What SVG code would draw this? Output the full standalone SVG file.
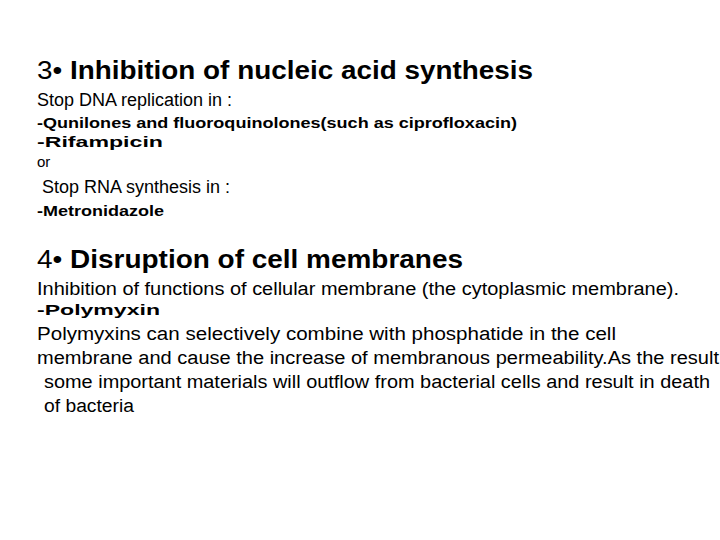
<svg xmlns="http://www.w3.org/2000/svg" width="720" height="540" viewBox="0 0 720 540">
<style>
text{font-family:"Liberation Sans",Arial,sans-serif;fill:#000}
.h{font-size:25px;font-weight:bold}
.r{font-size:18px}
.b{font-size:15px;font-weight:bold}
.s{font-size:15px}
</style>
<rect width="720" height="540" fill="#fff"/>
<text x="37" y="79" class="h" textLength="496" lengthAdjust="spacingAndGlyphs"><tspan font-weight="normal">3•</tspan> Inhibition of nucleic acid synthesis</text>
<text x="37" y="106" class="r">Stop DNA replication in :</text>
<text x="37" y="128" class="b" textLength="480" lengthAdjust="spacingAndGlyphs">-Qunilones and fluoroquinolones(such as ciprofloxacin)</text>
<text x="37" y="147" class="b" textLength="126" lengthAdjust="spacingAndGlyphs">-Rifampicin</text>
<text x="37" y="167" class="s">or</text>
<text x="42" y="193" class="r">Stop RNA synthesis in :</text>
<text x="37" y="216" class="b" textLength="127" lengthAdjust="spacingAndGlyphs">-Metronidazole</text>
<text x="37" y="268" class="h" textLength="426" lengthAdjust="spacingAndGlyphs"><tspan font-weight="normal">4•</tspan> Disruption of cell membranes</text>
<text x="37" y="295" class="r" font-size="17" textLength="642" lengthAdjust="spacingAndGlyphs">Inhibition of functions of cellular membrane (the cytoplasmic membrane).</text>
<text x="37" y="315" class="b" textLength="123" lengthAdjust="spacingAndGlyphs">-Polymyxin</text>
<text x="37" y="340" class="r" font-size="19" textLength="579" lengthAdjust="spacingAndGlyphs">Polymyxins can selectively combine with phosphatide in the cell</text>
<text x="37" y="364" class="r" font-size="19" textLength="682" lengthAdjust="spacingAndGlyphs">membrane and cause the increase of membranous permeability.As the result</text>
<text x="44" y="388" class="r" font-size="19" textLength="666" lengthAdjust="spacingAndGlyphs">some important materials will outflow from bacterial cells and result in death</text>
<text x="44" y="412" class="r" font-size="19" textLength="90" lengthAdjust="spacingAndGlyphs">of bacteria</text>
</svg>
